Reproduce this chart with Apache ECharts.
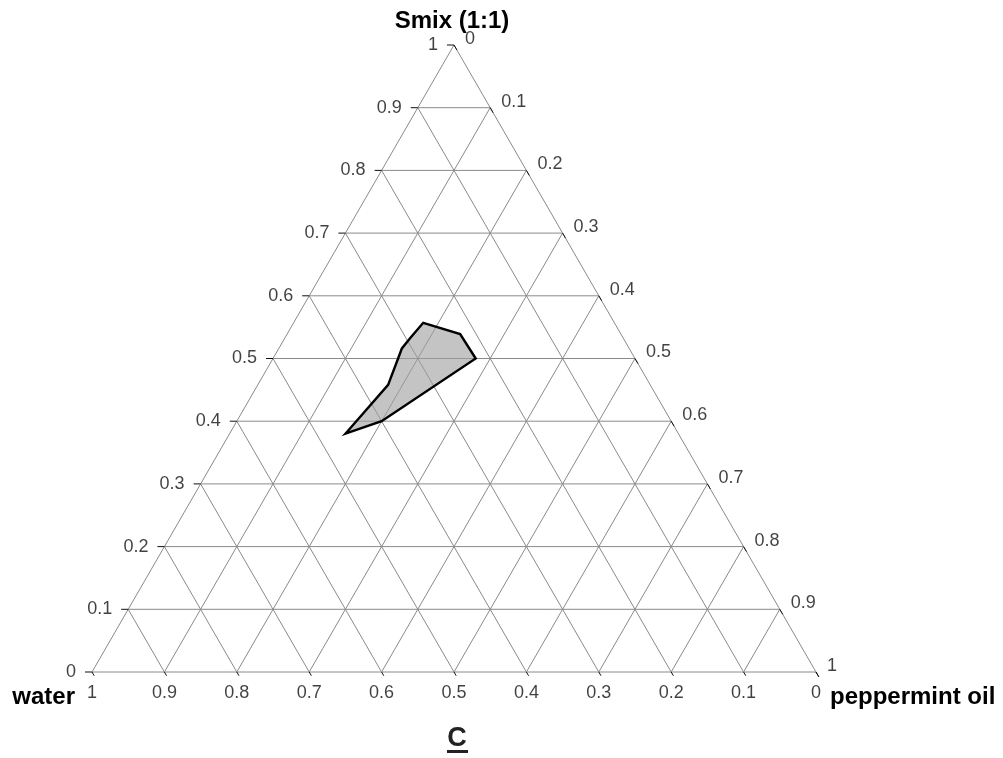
<!DOCTYPE html>
<html>
<head>
<meta charset="utf-8">
<script src="https://cdn.jsdelivr.net/npm/echarts@6/dist/echarts.min.js"></script>
<style>
html,body{margin:0;padding:0;background:#fff;}
#chart{width:1003px;height:758px;}
</style>
</head>
<body>
<div id="chart"></div>
<script>
// Tick values shared by the three ternary axes
var tickValues = [0, 0.1, 0.2, 0.3, 0.4, 0.5, 0.6, 0.7, 0.8, 0.9, 1];
var tickLabels = ['0', '0.1', '0.2', '0.3', '0.4', '0.5', '0.6', '0.7', '0.8', '0.9', '1'];

// Axis names
var apexName = 'Smix (1:1)';
var leftName = 'water';
var rightName = 'peppermint oil';
var caption = 'C';

// Microemulsion region boundary (fractions of each component)
var regionWater = [0.46, 0.362, 0.314, 0.295, 0.264, 0.222, 0.22, 0.40];
var regionOil   = [0.16, 0.18,  0.17,  0.173, 0.179, 0.239, 0.28, 0.20];
var regionSmix  = [0.38, 0.458, 0.516, 0.532, 0.557, 0.539, 0.50, 0.40];

// ternary (oil, smix) -> cartesian data coordinates
function tern(oil, smix) { return [oil + smix / 2, smix]; }

var chart = echarts.init(document.getElementById('chart'), null, {renderer: 'canvas'});

// Grid segments
var gridSegs = [];
tickValues.forEach(function (k) {
  if (k === 0 || k === 1) return;
  var a, b;
  a = tern(0, k); b = tern(1 - k, k); gridSegs.push(a.concat(b));        // constant Smix
  a = tern(k, 0); b = tern(k, 1 - k); gridSegs.push(a.concat(b));        // constant oil
  a = tern(1 - k, 0); b = tern(0, 1 - k); gridSegs.push(a.concat(b));    // constant water
});
gridSegs.push(tern(0, 0).concat(tern(1, 0)));
gridSegs.push(tern(0, 0).concat(tern(0, 1)));
gridSegs.push(tern(1, 0).concat(tern(0, 1)));

// Tick marks
var tickSegs = [];
tickValues.forEach(function (k) {
  var p;
  p = tern(0, k); tickSegs.push([p[0], p[1], p[0] - 0.0097, p[1]]);
  p = tern(k, 1 - k); tickSegs.push([p[0], p[1], p[0] + 0.004, p[1] - 0.008]);
  p = tern(1 - k, 0); tickSegs.push([p[0], p[1], p[0] + 0.003, p[1] - 0.006]);
});

var leftLabels = tickValues.map(function (k, i) { return {value: tern(0, k), name: tickLabels[i]}; });
var rightLabels = tickValues.map(function (k, i) { return {value: tern(k, 1 - k), name: tickLabels[i]}; });
var bottomLabels = tickValues.map(function (k, i) { return {value: tern(1 - k, 0), name: tickLabels[i]}; });

var regionPts = regionOil.map(function (o, i) { return tern(o, regionSmix[i]); });

function segRender(color, width) {
  return function (params, api) {
    var p1 = api.coord([api.value(0), api.value(1)]);
    var p2 = api.coord([api.value(2), api.value(3)]);
    return {type: 'line', shape: {x1: p1[0], y1: p1[1], x2: p2[0], y2: p2[1]},
            style: {stroke: color, lineWidth: width}};
  };
}

var labelFont = {fontFamily: 'Liberation Sans', fontSize: 18, color: '#111'};

var option = {
  animation: false,
  backgroundColor: '#ffffff',
  grid: {left: 92, top: 45, width: 724, height: 627},
  xAxis: {type: 'value', min: 0, max: 1, show: false},
  yAxis: {type: 'value', min: 0, max: 1, show: false},
  series: [
    {
      type: 'custom', clip: false, silent: true,
      data: gridSegs, encode: {x: [0, 2], y: [1, 3]},
      renderItem: segRender('#8a8a8a', 1), z: 1
    },
    {
      type: 'custom', clip: false, silent: true,
      data: regionPts, encode: {x: 0, y: 1},
      renderItem: function (params, api) {
        if (params.dataIndex !== 0) return null;
        var pts = regionPts.map(function (p) { return api.coord(p); });
        return {type: 'polygon', shape: {points: pts},
                style: {fill: 'rgba(160,160,160,0.62)', stroke: '#000', lineWidth: 2.4, lineJoin: 'miter'}};
      },
      z: 3
    },
    {
      type: 'custom', clip: false, silent: true,
      data: tickSegs, encode: {x: [0, 2], y: [1, 3]},
      renderItem: segRender('#111', 1), z: 4
    },
    {
      type: 'scatter', symbolSize: 0, silent: true, data: leftLabels,
      label: Object.assign({show: true, position: 'left', distance: 16, formatter: '{b}'}, labelFont)
    },
    {
      type: 'scatter', symbolSize: 0, silent: true, data: rightLabels,
      label: Object.assign({show: true, position: 'right', distance: 11, offset: [0, -6], formatter: '{b}'}, labelFont)
    },
    {
      type: 'scatter', symbolSize: 0, silent: true, data: bottomLabels,
      label: Object.assign({show: true, position: 'bottom', distance: 12, formatter: '{b}'}, labelFont)
    }
  ],
  graphic: [
    {type: 'text', x: 452, y: 21,
     style: {text: apexName, textAlign: 'center', textVerticalAlign: 'middle',
             font: 'bold 24px "Liberation Sans"', fill: '#000'}},
    {type: 'text', x: 75, y: 697,
     style: {text: leftName, textAlign: 'right', textVerticalAlign: 'middle',
             font: 'bold 24px "Liberation Sans"', fill: '#000'}},
    {type: 'text', x: 830, y: 697,
     style: {text: rightName, textAlign: 'left', textVerticalAlign: 'middle',
             font: 'bold 24px "Liberation Sans"', fill: '#000'}},
    {type: 'text', x: 457, y: 739,
     style: {text: caption, textAlign: 'center', textVerticalAlign: 'middle',
             font: 'bold 27px "Liberation Sans"', fill: '#222'}},
    {type: 'rect', shape: {x: 447, y: 750, width: 21, height: 3}, style: {fill: '#222'}}
  ]
};
chart.setOption(option);
</script>
</body>
</html>
